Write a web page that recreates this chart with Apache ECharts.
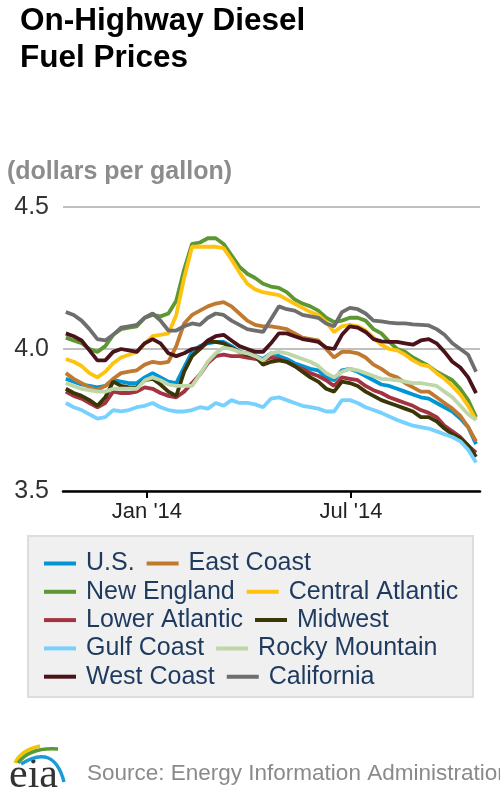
<!DOCTYPE html>
<html>
<head>
<meta charset="utf-8">
<script src="https://cdn.jsdelivr.net/npm/echarts@6/dist/echarts.min.js"></script>
<style>
html,body{margin:0;padding:0;background:#fff;}
#chart{width:500px;height:800px;}
</style>
</head>
<body>
<div id="chart"></div>
<script>
// Weekly dates (Mondays)
const dates = [
 '2013-10-21','2013-10-28','2013-11-04','2013-11-11','2013-11-18','2013-11-25',
 '2013-12-02','2013-12-09','2013-12-16','2013-12-23','2013-12-30',
 '2014-01-06','2014-01-13','2014-01-20','2014-01-27',
 '2014-02-03','2014-02-10','2014-02-17','2014-02-24',
 '2014-03-03','2014-03-10','2014-03-17','2014-03-24','2014-03-31',
 '2014-04-07','2014-04-14','2014-04-21','2014-04-28',
 '2014-05-05','2014-05-12','2014-05-19','2014-05-26',
 '2014-06-02','2014-06-09','2014-06-16','2014-06-23','2014-06-30',
 '2014-07-07','2014-07-14','2014-07-21','2014-07-28',
 '2014-08-04','2014-08-11','2014-08-18','2014-08-25',
 '2014-09-01','2014-09-08','2014-09-15','2014-09-22','2014-09-29',
 '2014-10-06','2014-10-13','2014-10-20'
];

const usPrices = [3.895,3.885,3.875,3.87,3.865,3.87,3.89,3.885,3.88,3.88,3.90,3.915,3.90,3.885,3.88,3.935,3.99,4.01,4.02,4.025,4.025,4.01,3.99,3.985,3.975,3.965,3.985,3.975,3.965,3.95,3.94,3.93,3.925,3.90,3.89,3.925,3.93,3.92,3.905,3.89,3.875,3.87,3.86,3.85,3.84,3.83,3.825,3.81,3.795,3.78,3.755,3.725,3.665];
const eastCoast = [3.915,3.895,3.88,3.865,3.855,3.87,3.895,3.915,3.92,3.925,3.945,3.955,3.95,3.955,4.01,4.09,4.12,4.135,4.15,4.16,4.165,4.15,4.125,4.10,4.085,4.08,4.08,4.075,4.07,4.055,4.04,4.035,4.03,4.00,3.97,3.99,3.99,3.985,3.97,3.945,3.93,3.91,3.90,3.88,3.865,3.85,3.85,3.83,3.81,3.79,3.765,3.725,3.675];
const newEngland = [4.04,4.03,4.02,4.00,3.99,4.01,4.05,4.07,4.075,4.08,4.11,4.12,4.115,4.125,4.17,4.28,4.37,4.375,4.39,4.39,4.37,4.33,4.29,4.265,4.25,4.23,4.22,4.215,4.20,4.175,4.16,4.15,4.135,4.11,4.095,4.10,4.11,4.11,4.10,4.07,4.055,4.025,4.00,3.99,3.97,3.955,3.94,3.92,3.905,3.89,3.86,3.82,3.76];
const centralAtlantic = [3.965,3.955,3.94,3.915,3.90,3.92,3.95,3.97,3.98,3.99,4.02,4.045,4.05,4.055,4.12,4.25,4.36,4.36,4.36,4.36,4.355,4.315,4.27,4.23,4.21,4.20,4.195,4.19,4.175,4.16,4.145,4.13,4.12,4.095,4.06,4.08,4.085,4.08,4.065,4.04,4.015,4.00,3.995,3.98,3.96,3.945,3.94,3.915,3.895,3.87,3.84,3.80,3.75];
const lowerAtlantic = [3.85,3.835,3.825,3.81,3.795,3.81,3.85,3.845,3.845,3.85,3.865,3.86,3.845,3.835,3.83,3.85,3.88,3.91,3.95,3.975,3.98,3.975,3.975,3.97,3.965,3.96,3.97,3.965,3.955,3.94,3.93,3.915,3.905,3.89,3.87,3.90,3.895,3.89,3.87,3.855,3.845,3.83,3.82,3.81,3.80,3.785,3.775,3.76,3.73,3.71,3.69,3.66,3.635];
const midwest = [3.86,3.845,3.835,3.82,3.80,3.83,3.885,3.87,3.865,3.865,3.89,3.895,3.875,3.85,3.835,3.92,3.975,4.00,4.025,4.025,4.02,4.005,3.99,3.98,3.975,3.945,3.955,3.96,3.955,3.94,3.92,3.90,3.885,3.86,3.85,3.885,3.88,3.87,3.85,3.835,3.82,3.81,3.80,3.79,3.78,3.76,3.76,3.745,3.72,3.70,3.685,3.66,3.62];
const gulfCoast = [3.81,3.795,3.785,3.77,3.755,3.76,3.785,3.78,3.785,3.795,3.80,3.81,3.795,3.785,3.78,3.78,3.785,3.795,3.79,3.81,3.80,3.82,3.81,3.81,3.805,3.795,3.825,3.83,3.82,3.81,3.80,3.795,3.79,3.78,3.78,3.82,3.82,3.81,3.795,3.785,3.775,3.762,3.75,3.74,3.73,3.725,3.72,3.71,3.70,3.69,3.675,3.645,3.60];
const rockyMountain = [3.88,3.87,3.86,3.855,3.85,3.85,3.86,3.86,3.86,3.86,3.89,3.90,3.89,3.875,3.87,3.87,3.87,3.91,3.955,3.985,4.005,4.00,3.99,3.985,3.975,3.96,3.985,3.99,3.985,3.975,3.965,3.955,3.94,3.915,3.90,3.92,3.93,3.925,3.915,3.905,3.895,3.893,3.89,3.885,3.88,3.88,3.875,3.87,3.85,3.83,3.80,3.77,3.75];
const westCoast = [4.055,4.045,4.03,3.995,3.96,3.96,3.99,4.00,3.995,3.99,4.02,4.035,4.02,3.985,3.975,3.985,4.00,4.005,4.03,4.045,4.05,4.03,4.01,4.00,3.99,3.99,4.02,4.055,4.055,4.045,4.035,4.03,4.025,4.005,4.00,4.05,4.08,4.075,4.06,4.035,4.027,4.025,4.025,4.02,4.015,4.03,4.035,4.02,3.99,3.955,3.935,3.90,3.845];
const california = [4.13,4.12,4.10,4.07,4.035,4.03,4.05,4.075,4.08,4.085,4.11,4.125,4.10,4.065,4.065,4.08,4.09,4.085,4.11,4.125,4.12,4.10,4.085,4.07,4.065,4.06,4.105,4.15,4.14,4.135,4.12,4.115,4.11,4.09,4.08,4.13,4.145,4.14,4.125,4.10,4.097,4.093,4.09,4.09,4.087,4.085,4.083,4.07,4.05,4.02,4.00,3.98,3.92];

const seriesNames = ['U.S.','East Coast','New England','Central Atlantic','Lower Atlantic','Midwest','Gulf Coast','Rocky Mountain','West Coast','California'];
const seriesValues = [usPrices,eastCoast,newEngland,centralAtlantic,lowerAtlantic,midwest,gulfCoast,rockyMountain,westCoast,california];
const seriesColors = ['#0096d6','#c0792f','#5d9732','#ffc20e','#a33340','#3b3605','#76d1ff','#bfd6a8','#4a1219','#6e6e6e'];

const legendRows = [['U.S.','East Coast'],['New England','Central Atlantic'],['Lower Atlantic','Midwest'],['Gulf Coast','Rocky Mountain'],['West Coast','California']];

const xTickDates = ['2014-01-01','2014-07-01'];
const xTickLabels = ["Jan '14","Jul '14"];
const xRange = ['2013-10-18T12:00','2014-10-23T12:00'];
const yTicks = [3.5, 4.0, 4.5];

function toTime(s){
  const p = s.split('T');
  const d = p[0].split('-').map(Number);
  const h = p[1] ? Number(p[1].split(':')[0]) : 0;
  return Date.UTC(d[0], d[1]-1, d[2], h);
}
const xTickValues = xTickDates.map(toTime);

const FONT = '"Liberation Sans", Arial, Helvetica, sans-serif';
const chart = echarts.init(document.getElementById('chart'), null, {renderer:'canvas'});

const option = {
  animation: false,
  textStyle: {fontFamily: FONT},
  title: [
    {text: 'On-Highway Diesel\nFuel Prices', left: 20, top: 3, padding: 0,
     textStyle: {fontSize: 31.5, lineHeight: 37, fontWeight: 'bold', color: '#000', fontFamily: FONT}},
    {text: '(dollars per gallon)', left: 7, top: 160, padding: 0,
     textStyle: {fontSize: 25, fontWeight: 'bold', color: '#8c8c8c', fontFamily: FONT}}
  ],
  grid: {left: 63, right: 20, top: 207, bottom: 309},
  xAxis: {
    type: 'value',
    min: toTime(xRange[0]),
    max: toTime(xRange[1]),
    axisLine: {show: true, onZero: false, lineStyle: {color: '#000', width: 2.5}},
    axisTick: {show: true, customValues: xTickValues, length: 7, lineStyle: {color: '#000', width: 2}},
    axisLabel: {show: true, customValues: xTickValues, margin: 10, fontSize: 22, color: '#222',
      formatter: function(v){ const i = xTickValues.indexOf(v); return i >= 0 ? xTickLabels[i] : ''; }},
    splitLine: {show: false}
  },
  yAxis: {
    type: 'value',
    min: yTicks[0], max: yTicks[yTicks.length-1], interval: 0.5,
    axisLine: {show: false},
    axisTick: {show: false},
    axisLabel: {fontSize: 25, color: '#333', margin: 14, formatter: v => v.toFixed(1)},
    splitLine: {show: true, lineStyle: {color: '#c0c0c0', width: 2}}
  },
  legend: legendRows.map((row, i) => ({
    data: row,
    left: 44,
    top: 551 + i * 28.3,
    padding: 0,
    itemWidth: 32,
    itemHeight: 4,
    itemGap: 12,
    icon: 'rect',
    textStyle: {fontSize: 25, color: '#1e3a5f', padding: [0, 0, 0, 5], fontFamily: FONT}
  })),
  series: seriesNames.map((name, i) => ({
    name: name,
    type: 'line',
    data: dates.map((d, j) => [toTime(d), seriesValues[i][j]]),
    showSymbol: false,
    symbol: 'none',
    lineStyle: {width: 3.8, color: seriesColors[i]},
    itemStyle: {color: seriesColors[i]},
    emphasis: {disabled: true}
  })),
  graphic: [
    {type: 'rect', z: -10, shape: {x: 28, y: 536, width: 445, height: 161},
     style: {fill: '#f0f0f0', stroke: '#dddddd', lineWidth: 2}},
    {type: 'text', x: 87, y: 774,
     style: {text: 'Source: Energy Information Administration', fill: '#8a8a8a',
       font: '22.5px ' + FONT, verticalAlign: 'middle', align: 'left'}},
    {type: 'text', x: 9, y: 776,
     style: {text: 'eia', fill: '#333333', font: '42px "Liberation Serif", "DejaVu Serif", serif',
       verticalAlign: 'middle', align: 'left'}},
    {type: 'bezierCurve', shape: {x1: 15, y1: 763, cpx1: 21, cpy1: 750, x2: 40, y2: 746},
     style: {stroke: '#f5c400', lineWidth: 3.5, fill: null}},
    {type: 'bezierCurve', shape: {x1: 18, y1: 763, cpx1: 30, cpy1: 747, x2: 58, y2: 749},
     style: {stroke: '#5a9a32', lineWidth: 3.5, fill: null}},
    {type: 'bezierCurve', shape: {x1: 21, y1: 764, cpx1: 54, cpy1: 743, x2: 64, y2: 782},
     style: {stroke: '#1a9ad6', lineWidth: 3.5, fill: null}}
  ]
};
chart.setOption(option);
</script>
</body>
</html>
